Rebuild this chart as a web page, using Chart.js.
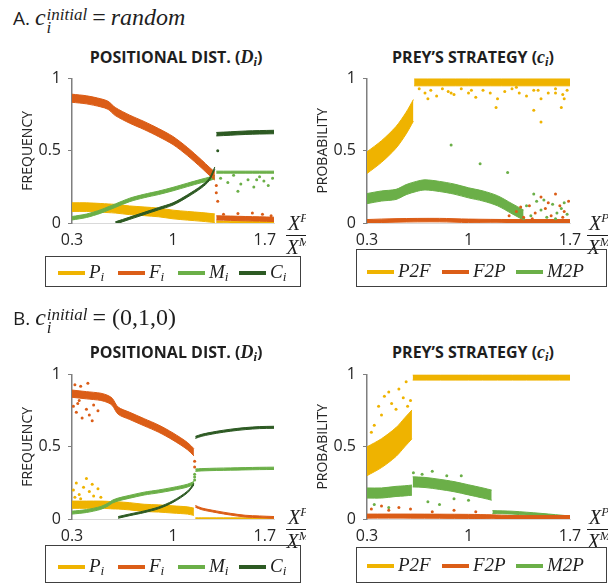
<!DOCTYPE html>
<html>
<head>
<meta charset="utf-8">
<script src="https://cdn.jsdelivr.net/npm/chart.js@4.4.1/dist/chart.umd.min.js"></script>
<style>
  body { margin: 0; width: 608px; height: 588px; background: #fff; position: relative; overflow: hidden; font-family: "Open Sans", sans-serif; color: #1e1e1e; }
  .half { position: absolute; left: 0; top: 0; width: 306px; height: 588px; overflow: hidden; }
  .m { font-family: "Liberation Serif", serif; font-style: italic; }
  .head { position: absolute; font-size: 19px; white-space: nowrap; line-height: 28px; }
  .head .m { font-size: 24px; }
  .ss { display: inline-flex; flex-direction: column; font-size: 17px; line-height: 13px; vertical-align: 5px; margin-left: 1px; }
  .title { position: absolute; font-weight: 700; font-size: 16px; white-space: nowrap; transform: translateX(-50%); line-height: 20px; }
  .title .m { font-family: "Liberation Serif", serif; font-size: 18px; }
  sub { font-size: 0.7em; vertical-align: -3px; line-height: 0; }
  sup { font-size: 0.65em; vertical-align: 8px; line-height: 0; }
  .frac { position: absolute; font: italic 20px "Liberation Serif", serif; text-align: center; line-height: 19px; }
  .frac .num { border-bottom: 1.3px solid #1e1e1e; padding: 0 2px 2px; }
  .frac .den { padding-top: 2px; }
  .box { position: absolute; border: 1.5px solid #404040; box-sizing: border-box; }
  .key { position: absolute; height: 4px; width: 27px; }
  .lab { position: absolute; font: italic 19px "Liberation Serif", serif; line-height: 20px; white-space: nowrap; }
  canvas { position: absolute; }
</style>
</head>
<body>
<div class="half">
  <div class="head" style="left:13px;top:3px">A. <span class="m">c<span class="ss"><span>initial</span><span>i</span></span></span> <span class="m" style="font-style:normal">=</span> <span class="m">random</span></div>
  <div class="title" style="left:176px;top:47px">POSITIONAL DIST. (<span class="m">D<sub>i</sub></span>)</div>
  <canvas id="cA1" width="300" height="200" style="left:0;top:62px"></canvas>
  <div class="frac" style="left:286px;top:214px"><div class="num">X<sup>P</sup></div><div class="den">X<sup>M</sup></div></div>
  <div class="box" style="left:45px;top:256px;width:256px;height:31px"></div>

  <div class="head" style="left:13px;top:303px">B. <span class="m">c<span class="ss"><span>initial</span><span>i</span></span></span> <span class="m" style="font-style:normal">= (0,1,0)</span></div>
  <div class="title" style="left:176px;top:342px">POSITIONAL DIST. (<span class="m">D<sub>i</sub></span>)</div>
  <canvas id="cB1" width="300" height="200" style="left:0;top:358px"></canvas>
  <div class="frac" style="left:286px;top:508px"><div class="num">X<sup>P</sup></div><div class="den">X<sup>M</sup></div></div>
  <div class="box" style="left:45px;top:545px;width:256px;height:38px"></div>
</div>

<div class="title" style="left:473px;top:47px">PREY’S STRATEGY (<span class="m">c<sub>i</sub></span>)</div>
<canvas id="cA2" width="300" height="200" style="left:295px;top:62px"></canvas>
<div class="frac" style="left:587px;top:214px"><div class="num">X<sup>P</sup></div><div class="den">X<sup>M</sup></div></div>
<div class="box" style="left:356px;top:249px;width:251px;height:38px"></div>

<div class="title" style="left:473px;top:342px">PREY’S STRATEGY (<span class="m">c<sub>i</sub></span>)</div>
<canvas id="cB2" width="300" height="200" style="left:295px;top:358px"></canvas>
<div class="frac" style="left:587px;top:508px"><div class="num">X<sup>P</sup></div><div class="den">X<sup>M</sup></div></div>
<div class="box" style="left:356px;top:547px;width:251px;height:36px"></div>

<div id="keys"></div>

<script>
// axis ticks
const xTicks = [0.3, 1, 1.7];
const yTicks = [0, 0.5, 1];

// A. random initial strategy - positional distribution, before the jump at 1.3
const aX1 = [0.3, 0.4, 0.5, 0.55, 0.6, 0.7, 0.8, 0.9, 1.0, 1.1, 1.2, 1.25, 1.29];
const aP1 = [0.11, 0.11, 0.105, 0.102, 0.099, 0.088, 0.081, 0.073, 0.059, 0.05, 0.042, 0.037, 0.033];
const aF1 = [0.864, 0.853, 0.832, 0.815, 0.772, 0.719, 0.675, 0.626, 0.571, 0.495, 0.407, 0.36, 0.325];
const aM1 = [0.033, 0.05, 0.08, 0.1, 0.12, 0.16, 0.187, 0.209, 0.235, 0.264, 0.292, 0.305, 0.318];
const aCX1 = [0.6, 0.7, 0.8, 0.9, 1.0, 1.1, 1.2, 1.25, 1.29];
const aC1 = [0.0, 0.033, 0.066, 0.099, 0.132, 0.187, 0.253, 0.3, 0.38];
// after the jump
const aX2 = [1.3, 1.4, 1.5, 1.6, 1.7];
const aP2 = [0.007, 0.006, 0.006, 0.005, 0.005];
const aF2 = [0.035, 0.033, 0.03, 0.028, 0.025];
const aM2 = [0.352, 0.352, 0.352, 0.352, 0.352];
const aC2 = [0.615, 0.62, 0.625, 0.628, 0.63];
// spread of each cloud (half width)
const aSpread1 = { P: 0.03, F: 0.028, M: 0.012, C: 0.008 };
const aSpread2 = { P: 0.006, F: 0.015, M: 0.007, C: 0.012 };
// stray points
const aOutMx = [1.33, 1.38, 1.42, 1.47, 1.52, 1.56, 1.6, 1.63, 1.66, 1.69, 1.45, 1.58];
const aOutMy = [0.31, 0.28, 0.33, 0.27, 0.3, 0.25, 0.32, 0.29, 0.26, 0.31, 0.22, 0.3];
const aOutFx = [1.3, 1.3, 1.31, 1.35, 1.45, 1.55, 1.62, 1.68];
const aOutFy = [0.26, 0.21, 0.15, 0.06, 0.065, 0.07, 0.06, 0.05];
const aOutCx = [1.31];
const aOutCy = [0.5];

// A. random initial strategy - prey's strategy
const sX1 = [0.3, 0.4, 0.5, 0.57, 0.62];
const sP2F1 = [0.418, 0.495, 0.593, 0.692, 0.78];
const sX2 = [0.625, 1.0, 1.3, 1.7];
const sP2F2 = [0.975, 0.975, 0.975, 0.975];
const sMX = [0.3, 0.4, 0.5, 0.57, 0.64, 0.7, 0.8, 0.9, 1.0, 1.1, 1.2, 1.3, 1.38];
const sM2P = [0.169, 0.187, 0.198, 0.231, 0.253, 0.264, 0.253, 0.235, 0.209, 0.187, 0.154, 0.099, 0.055];
const sFX = [0.3, 0.5, 0.8, 1.0, 1.3, 1.7];
const sF2P = [0.012, 0.018, 0.02, 0.015, 0.012, 0.012];
const sSpread = { P1: 0.075, P2: 0.025, M: 0.035, F: 0.012 };
const sOutPx = [0.66, 0.7, 0.74, 0.78, 0.82, 0.86, 0.9, 0.95, 1.0, 1.05, 1.1, 1.15, 1.2, 1.25, 1.3, 1.35, 1.4, 1.45, 1.5, 1.55, 1.6, 1.65, 1.68, 0.72, 0.88, 1.02, 1.19, 1.33, 1.48, 1.64, 1.45, 1.5, 1.6, 1.66];
const sOutPy = [0.93, 0.9, 0.92, 0.88, 0.93, 0.91, 0.89, 0.93, 0.9, 0.87, 0.92, 0.9, 0.86, 0.91, 0.93, 0.9, 0.88, 0.92, 0.86, 0.9, 0.93, 0.89, 0.92, 0.86, 0.9, 0.92, 0.8, 0.94, 0.92, 0.8, 0.78, 0.7, 0.9, 0.86];
const sOutFx = [1.28, 1.33, 1.38, 1.42, 1.46, 1.5, 1.53, 1.57, 1.6, 1.63, 1.66, 1.69, 1.44, 1.55, 1.65, 1.36];
const sOutFy = [0.05, 0.08, 0.04, 0.12, 0.07, 0.18, 0.1, 0.05, 0.2, 0.12, 0.08, 0.15, 0.03, 0.14, 0.04, 0.11];
const sOutMx = [1.35, 1.4, 1.43, 1.47, 1.5, 1.54, 1.58, 1.61, 1.64, 1.68, 1.45, 1.52, 1.6, 1.38, 1.66, 0.88, 1.08, 1.27];
const sOutMy = [0.08, 0.12, 0.05, 0.15, 0.09, 0.04, 0.13, 0.07, 0.1, 0.06, 0.2, 0.16, 0.03, 0.03, 0.14, 0.54, 0.41, 0.35];

// B. initial (0,1,0) - positional distribution, before the jump at 1.15
const bX1 = [0.3, 0.4, 0.5, 0.55, 0.58, 0.62, 0.7, 0.8, 0.9, 1.0, 1.1, 1.145];
const bF1 = [0.868, 0.857, 0.846, 0.83, 0.81, 0.75, 0.714, 0.67, 0.626, 0.571, 0.505, 0.462];
const bM1 = [0.044, 0.055, 0.077, 0.1, 0.12, 0.135, 0.154, 0.176, 0.191, 0.209, 0.231, 0.25];
const bP1 = [0.099, 0.099, 0.099, 0.097, 0.095, 0.094, 0.088, 0.077, 0.073, 0.066, 0.059, 0.05];
const bCX1 = [0.62, 0.7, 0.8, 0.9, 1.0, 1.1, 1.145];
const bC1 = [0.011, 0.029, 0.05, 0.077, 0.121, 0.187, 0.242];
const bX2 = [1.155, 1.2, 1.3, 1.4, 1.5, 1.6, 1.7];
const bF2 = [0.088, 0.07, 0.05, 0.033, 0.02, 0.015, 0.011];
const bM2 = [0.338, 0.341, 0.344, 0.346, 0.348, 0.35, 0.351];
const bC2 = [0.565, 0.58, 0.6, 0.615, 0.626, 0.633, 0.635];
const bP2 = [0.004, 0.004, 0.004, 0.004, 0.004, 0.004, 0.004];
const bSpread1 = { P: 0.025, F: 0.025, M: 0.01, C: 0.006 };
const bSpread2 = { P: 0.004, F: 0.006, M: 0.008, C: 0.007 };
const bOutFx = [0.31, 0.33, 0.35, 0.37, 0.4, 0.42, 0.45, 0.32, 0.36, 0.41, 0.48, 0.34, 0.44, 1.15, 1.15];
const bOutFy = [0.78, 0.74, 0.82, 0.7, 0.76, 0.72, 0.79, 0.93, 0.92, 0.94, 0.75, 0.8, 0.68, 0.4, 0.36];
const bOutPx = [0.31, 0.33, 0.35, 0.38, 0.4, 0.42, 0.45, 0.48, 0.36, 0.5, 0.32, 0.44];
const bOutPy = [0.2, 0.25, 0.17, 0.22, 0.28, 0.19, 0.16, 0.21, 0.14, 0.15, 0.15, 0.24];
const bOutMx = [1.15, 1.15, 1.15];
const bOutMy = [0.27, 0.29, 0.31];

// B. initial (0,1,0) - prey's strategy
const tX1 = [0.3, 0.4, 0.5, 0.56, 0.61];
const tP2F1 = [0.40, 0.456, 0.533, 0.6, 0.655];
const tM2P1 = [0.18, 0.18, 0.191, 0.195, 0.2];
const tPX2 = [0.615, 1.0, 1.4, 1.7];
const tP2F2 = [0.98, 0.98, 0.98, 0.98];
const tX2 = [0.615, 0.7, 0.8, 0.9, 1.0, 1.1, 1.16];
const tM2P2 = [0.257, 0.253, 0.24, 0.224, 0.202, 0.18, 0.165];
const tX3 = [1.165, 1.3, 1.4, 1.5, 1.6, 1.7];
const tM2P3 = [0.048, 0.044, 0.037, 0.029, 0.02, 0.011];
const tFX = [0.3, 0.6, 1.0, 1.16, 1.3, 1.7];
const tF2P = [0.02, 0.02, 0.018, 0.015, 0.01, 0.01];
const tSpread = { P1: 0.1, P2: 0.018, M1: 0.035, M2: 0.035, M3: 0.01, F: 0.014 };
const tOutPx = [0.38, 0.42, 0.45, 0.47, 0.5, 0.52, 0.55, 0.58, 0.6, 0.35, 0.33, 0.4, 0.57];
const tOutPy = [0.78, 0.85, 0.88, 0.8, 0.76, 0.9, 0.84, 0.78, 0.82, 0.65, 0.6, 0.72, 0.95];
const tOutMx = [0.68, 0.75, 0.85, 0.72, 0.8, 0.9, 0.95, 0.62, 1.0, 0.35, 0.45];
const tOutMy = [0.31, 0.33, 0.3, 0.12, 0.1, 0.14, 0.3, 0.32, 0.13, 0.1, 0.08];
const tOutFx = [0.33, 0.4, 0.45, 0.52, 0.6, 0.75, 0.9, 1.05];
const tOutFy = [0.07, 0.09, 0.06, 0.08, 0.07, 0.05, 0.06, 0.05];

const YEL = "#EFB300", ORA = "#DB5D17", GRN = "#6BAF48", DRK = "#2D5A23";

function pts(xs, ys, d) {
  return xs.map((x, i) => ({ x: x, y: ys[i] + d }));
}

// a cloud of points drawn as a filled band around its centre line
function band(xs, ys, hw, color) {
  return [
    { data: pts(xs, ys, hw), borderColor: color, backgroundColor: color, borderWidth: 1, pointRadius: 0, fill: "+1", tension: 0.3 },
    { data: pts(xs, ys, -hw), borderColor: color, backgroundColor: color, borderWidth: 1, pointRadius: 0, fill: false, tension: 0.3 }
  ];
}

function dots(xs, ys, color) {
  return { data: pts(xs, ys, 0), showLine: false, pointRadius: 1.5, pointBorderWidth: 0, pointBackgroundColor: color };
}

// left panels print the last x label pulled in against the axis end
function makeChart(id, yTitle, padRight, pullLast, datasets) {
  const tickFont = { family: "Open Sans", size: 16 };
  new Chart(document.getElementById(id), {
    type: "line",
    data: { datasets: datasets },
    options: {
      responsive: false,
      animation: false,
      events: [],
      layout: { padding: { top: 10, right: padRight, left: 0, bottom: 0 } },
      plugins: { legend: { display: false }, tooltip: { enabled: false } },
      scales: {
        x: {
          type: "linear", min: 0.3, max: 1.7,
          afterBuildTicks: s => { s.ticks = xTicks.map(v => ({ value: v })); },
          afterFit: s => { s.height = 39; },
          grid: { display: false },
          border: { color: "#d9d9d9" },
          ticks: {
            padding: 0, color: "#262626", font: tickFont, maxRotation: 0, autoSkip: false,
            callback: v => (pullLast && v === 1.7) ? "1.7\u2007\u2007" : String(v)
          }
        },
        y: {
          min: 0, max: 1,
          afterBuildTicks: s => { s.ticks = yTicks.map(v => ({ value: v })); },
          afterFit: s => { s.width = 72; },
          grid: { drawOnChartArea: false, tickLength: 4, color: "#7f7f7f" },
          border: { color: "#7f7f7f", width: 1.5 },
          ticks: { padding: 7, color: "#262626", font: tickFont, callback: v => String(v) },
          title: { display: true, text: yTitle, color: "#262626", font: { family: "Open Sans", size: 14 }, padding: { top: 20, bottom: 0 } }
        }
      }
    }
  });
}

makeChart("cA1", "FREQUENCY", 26, true, [
  dots(aOutCx, aOutCy, DRK),
  ...band(aCX1, aC1, aSpread1.C, DRK),
  ...band(aX2, aC2, aSpread2.C, DRK),
  dots(aOutFx, aOutFy, ORA),
  ...band(aX1, aF1, aSpread1.F, ORA),
  ...band(aX2, aF2, aSpread2.F, ORA),
  dots(aOutMx, aOutMy, GRN),
  ...band(aX1, aM1, aSpread1.M, GRN),
  ...band(aX2, aM2, aSpread2.M, GRN),
  ...band(aX1, aP1, aSpread1.P, YEL),
  ...band(aX2, aP2, aSpread2.P, YEL)
]);

makeChart("cA2", "PROBABILITY", 25, false, [
  dots(sOutFx, sOutFy, ORA),
  dots(sOutMx, sOutMy, GRN),
  ...band(sFX, sF2P, sSpread.F, ORA),
  ...band(sMX, sM2P, sSpread.M, GRN),
  dots(sOutPx, sOutPy, YEL),
  ...band(sX1, sP2F1, sSpread.P1, YEL),
  ...band(sX2, sP2F2, sSpread.P2, YEL)
]);

makeChart("cB1", "FREQUENCY", 26, true, [
  dots(bOutMx, bOutMy, GRN),
  ...band(bCX1, bC1, bSpread1.C, DRK),
  ...band(bX2, bC2, bSpread2.C, DRK),
  dots(bOutFx, bOutFy, ORA),
  ...band(bX1, bF1, bSpread1.F, ORA),
  ...band(bX2, bF2, bSpread2.F, ORA),
  ...band(bX1, bM1, bSpread1.M, GRN),
  ...band(bX2, bM2, bSpread2.M, GRN),
  dots(bOutPx, bOutPy, YEL),
  ...band(bX1, bP1, bSpread1.P, YEL),
  ...band(bX2, bP2, bSpread2.P, YEL)
]);

makeChart("cB2", "PROBABILITY", 25, false, [
  dots(tOutFx, tOutFy, ORA),
  ...band(tFX, tF2P, tSpread.F, ORA),
  dots(tOutMx, tOutMy, GRN),
  ...band(tX1, tM2P1, tSpread.M1, GRN),
  ...band(tX2, tM2P2, tSpread.M2, GRN),
  ...band(tX3, tM2P3, tSpread.M3, GRN),
  dots(tOutPx, tOutPy, YEL),
  ...band(tX1, tP2F1, tSpread.P1, YEL),
  ...band(tPX2, tP2F2, tSpread.P2, YEL)
]);

// legend keys (HTML, outside the charts)
const leftKeys = [["P", YEL, 58], ["F", ORA, 118], ["M", GRN, 178], ["C", DRK, 239]];
const rightKeys = [["P2F", YEL, 367], ["F2P", ORA, 442], ["M2P", GRN, 516]];
const keys = document.getElementById("keys");
function addKeys(list, y, sub) {
  list.forEach(k => {
    const line = document.createElement("div");
    line.className = "key";
    line.style.left = k[2] + "px";
    line.style.top = (y - 2) + "px";
    line.style.background = k[1];
    keys.appendChild(line);
    const lab = document.createElement("div");
    lab.className = "lab";
    lab.style.left = (k[2] + 31) + "px";
    lab.style.top = (y - 11) + "px";
    lab.innerHTML = sub ? k[0] + "<sub>i</sub>" : k[0];
    keys.appendChild(lab);
  });
}
addKeys(leftKeys, 273, true);
addKeys(rightKeys, 272, false);
addKeys(leftKeys, 567, true);
addKeys(rightKeys, 566, false);
</script>
</body>
</html>
